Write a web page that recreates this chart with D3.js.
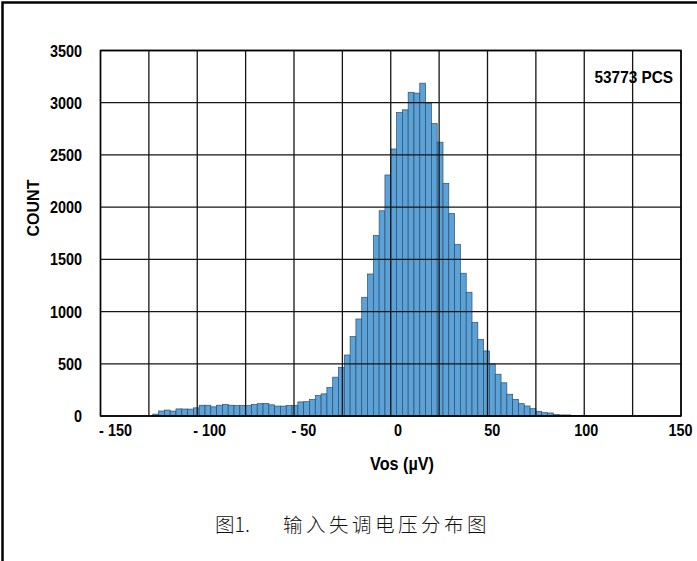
<!DOCTYPE html>
<html><head><meta charset="utf-8">
<script src="https://cdn.jsdelivr.net/npm/d3@7"></script>
<style>body{margin:0;background:#fff}svg{display:block}</style>
</head><body>
<svg id="c" width="697" height="561"></svg>
<script>
// Histogram bins (lower edge, µV), bin width 3 µV
const binEdges = [-123,-120,-117,-114,-111,-108,-105,-102,-99,-96,-93,-90,-87,-84,-81,-78,-75,-72,-69,-66,-63,-60,-57,-54,-51,
  -48,-45,-42,-39,-36,-33,-30,-27,-24,-21,
  -18,-15,-12,-9,-6,-3,0,3,6,9,12,15,18,21,24,27,30,33,
  36,39,42,45,48,51,54,57,60,63,66,69,72,75,78,81,84,87,90,93,96,99];
const binWidth = 3;
const counts = [18,48,57,47,68,67,66,78,103,103,88,103,110,103,100,100,99,110,118,120,107,95,95,101,99,
  135,137,158,195,212,273,372,465,584,760,
  929,1137,1360,1728,1965,2308,2557,2905,2932,3100,3092,3187,2997,2800,2622,2227,1939,1642,
  1367,1185,894,734,623,498,400,318,208,160,118,96,70,45,32,29,13,10,10,6,3,2];
const xGrid = [-150,-125,-100,-75,-50,-25,0,25,50,75,100,125,150];
const xLabelValues = [-150,-100,-50,0,50,100,150];
const xLabels = ["- 150","- 100","- 50","0","50","100","150"];
const yTicks = [0,500,1000,1500,2000,2500,3000,3500];
const yLabels = ["0","500","1000","1500","2000","2500","3000","3500"];
const xTitle = "Vos (µV)";
const yTitle = "COUNT";
const note = "53773 PCS";
const captionA = "图1.";
const captionB = "输入失调电压分布图";

const svg = d3.select("#c");
const font = "'Liberation Sans', Arial, sans-serif";
const x = d3.scaleLinear().domain([-150,150]).range([100.5,681]);
const xl = d3.scaleLinear().domain([-150,150]).range([115.5,680.5]);
const y = d3.scaleLinear().domain([0,3500]).range([416,50.5]);

// outer frame
svg.append("path").attr("d","M2.5,561V2.5H697").attr("fill","none").attr("stroke","#000").attr("stroke-width",2.5);

// bars
svg.append("g").selectAll("rect").data(binEdges).join("rect")
  .attr("x",d=>x(d)).attr("width",d=>x(d+binWidth)-x(d))
  .attr("y",(d,i)=>y(counts[i])).attr("height",(d,i)=>y(0)-y(counts[i]))
  .attr("fill","#5ba2d8").attr("stroke","#2f4d68").attr("stroke-width",0.7);

// grid
const g = svg.append("g").attr("stroke","#151515").attr("stroke-width",1.3);
g.selectAll("line.v").data(xGrid).join("line").attr("class","v")
  .attr("x1",d=>x(d)).attr("x2",d=>x(d)).attr("y1",y(0)).attr("y2",y(3500));
g.selectAll("line.h").data(yTicks).join("line").attr("class","h")
  .attr("x1",x(-150)).attr("x2",x(150)).attr("y1",d=>y(d)).attr("y2",d=>y(d));
svg.append("rect").attr("x",x(-150)).attr("y",y(3500)).attr("width",x(150)-x(-150)).attr("height",y(0)-y(3500))
  .attr("fill","none").attr("stroke","#000").attr("stroke-width",1.5);

// y tick labels
svg.append("g").selectAll("text").data(yTicks).join("text")
  .attr("transform",d=>`translate(82,${y(d)+6}) scale(0.9,1)`)
  .attr("text-anchor","end").attr("font-family",font).attr("font-weight","bold").attr("font-size",16)
  .text((d,i)=>yLabels[i]);

// x tick labels
svg.append("g").selectAll("text").data(xLabelValues).join("text")
  .attr("transform",d=>`translate(${xl(d)},${436}) scale(0.9,1)`)
  .attr("text-anchor","middle").attr("font-family",font).attr("font-weight","bold").attr("font-size",16)
  .text((d,i)=>xLabels[i]);

// titles
svg.append("text").attr("transform","translate(402,470) scale(0.9,1)").attr("text-anchor","middle")
  .attr("font-family",font).attr("font-weight","bold").attr("font-size",18).text(xTitle);
svg.append("text").attr("transform","translate(39,208) rotate(-90)").attr("text-anchor","middle")
  .attr("font-family",font).attr("font-weight","bold").attr("font-size",16).text(yTitle);
svg.append("text").attr("transform","translate(673,83) scale(0.93,1)").attr("text-anchor","end")
  .attr("font-family",font).attr("font-weight","bold").attr("font-size",16.5).text(note);

// caption
const cf = "'Noto Sans CJK SC', sans-serif";
svg.append("text").attr("x",215).attr("y",532).attr("font-family",cf).attr("font-size",19.5).attr("font-weight",300)
  .attr("fill","#111").text(captionA);
svg.append("text").attr("x",283).attr("y",532).attr("font-family",cf).attr("font-size",19.5).attr("font-weight",300)
  .attr("letter-spacing",3.5).attr("fill","#111").text(captionB);
</script>
</body></html>
